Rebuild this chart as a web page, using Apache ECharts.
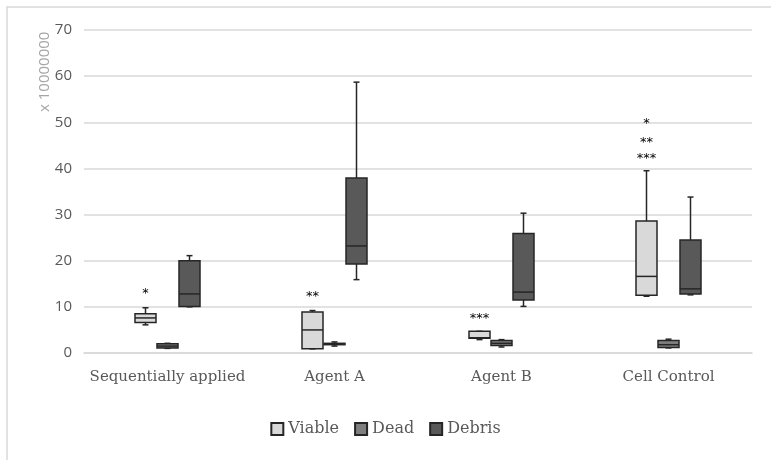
<!DOCTYPE html>
<html>
<head>
<meta charset="utf-8">
<script src="https://cdn.jsdelivr.net/npm/echarts@6/dist/echarts.min.js"></script>
<style>
  html, body { margin: 0; padding: 0; background: #fff; }
  #chart { width: 771px; height: 471px; }
</style>
</head>
<body>
<div id="chart"></div>
<script>
// categories on the x axis
var categories = ['Sequentially applied', 'Agent A', 'Agent B', 'Cell Control'];

// box values per category: [min, q1, median, q3, max]  (x 10000000)
var viable = [
    [6.1, 6.6, 7.6, 8.5, 9.8],
    [0.9, 0.9, 5.0, 8.9, 9.2],
    [2.9, 3.2, 3.3, 4.7, 4.7],
    [12.3, 12.5, 16.6, 28.6, 39.5]
];
var dead = [
    [1.0, 1.1, 1.5, 2.0, 2.1],
    [1.5, 1.8, 1.9, 2.1, 2.4],
    [1.3, 1.6, 2.1, 2.7, 2.9],
    [1.1, 1.2, 1.8, 2.7, 3.0]
];
var debris = [
    [10.0, 10.1, 12.8, 20.0, 21.1],
    [15.9, 19.3, 23.2, 37.9, 58.7],
    [10.1, 11.5, 13.2, 25.9, 30.3],
    [12.6, 12.8, 13.9, 24.5, 33.8]
];

// significance marks (drawn above the Viable boxes)
var starCats = [0, 1, 2, 3, 3, 3];
var starValues = [13.5, 12.8, 8.1, 50.4, 46.3, 42.8];
var starTexts = ['*', '**', '***', '*', '**', '***'];

// y axis ticks
var yMin = 0, yMax = 70, yStep = 10;

var BOX_W = 21;
var EDGE = '#262626';

function toRows(arr) {
    return arr.map(function(v, i) {
        return [i, v[0], v[1], v[2], v[3], v[4]];
    });
}

// box renderer, offset = px shift from the category centre
function boxRender(offset, fill) {
    return function(params, api) {
        var x = api.value(0);
        var pMin = api.coord([x, api.value(1)]);
        var pQ1 = api.coord([x, api.value(2)]);
        var pMed = api.coord([x, api.value(3)]);
        var pQ3 = api.coord([x, api.value(4)]);
        var pMax = api.coord([x, api.value(5)]);
        var cx = pMed[0] + offset;
        var hw = BOX_W / 2;
        var cw = 3;
        var ls = { stroke: EDGE, lineWidth: 1.5 };
        return {
            type: 'group',
            children: [
                { type: 'line', shape: { x1: cx, y1: pMax[1], x2: cx, y2: pQ3[1] }, style: ls },
                { type: 'line', shape: { x1: cx, y1: pQ1[1], x2: cx, y2: pMin[1] }, style: ls },
                { type: 'line', shape: { x1: cx - cw, y1: pMax[1], x2: cx + cw, y2: pMax[1] }, style: ls },
                { type: 'line', shape: { x1: cx - cw, y1: pMin[1], x2: cx + cw, y2: pMin[1] }, style: ls },
                {
                    type: 'rect',
                    shape: { x: cx - hw, y: pQ3[1], width: BOX_W, height: pQ1[1] - pQ3[1] },
                    style: { fill: fill, stroke: EDGE, lineWidth: 1.5 }
                },
                { type: 'line', shape: { x1: cx - hw, y1: pMed[1], x2: cx + hw, y2: pMed[1] }, style: ls }
            ]
        };
    };
}

var colors = { Viable: '#d9d9d9', Dead: '#7f7f7f', Debris: '#595959' };
var offsets = { Viable: -22, Dead: 0, Debris: 22 };

function boxSeries(name, arr) {
    return {
        name: name,
        type: 'custom',
        renderItem: boxRender(offsets[name], colors[name]),
        itemStyle: { color: colors[name], borderColor: EDGE, borderWidth: 1.5 },
        encode: { x: 0, y: [1, 2, 3, 4, 5] },
        data: toRows(arr),
        silent: true,
        z: 3
    };
}

var starData = starCats.map(function(c, i) {
    return [c, starValues[i], starTexts[i]];
});

var myChart = echarts.init(document.getElementById('chart'));

var option = {
    animation: false,
    backgroundColor: '#fff',
    grid: { left: 84, right: 19, top: 30, bottom: 118 },
    legend: {
        top: 416,
        left: 'center',
        itemWidth: 12,
        itemHeight: 12,
        itemGap: 15,
        icon: 'rect',
        textStyle: { color: '#595959', fontFamily: 'DejaVu Serif', fontSize: 16 },
        data: ['Viable', 'Dead', 'Debris']
    },
    xAxis: {
        type: 'category',
        data: categories,
        axisTick: { show: false },
        axisLine: { lineStyle: { color: '#d9d9d9', width: 1.5 } },
        axisLabel: { interval: 0, color: '#595959', fontFamily: 'DejaVu Serif', fontSize: 15, margin: 17 }
    },
    yAxis: {
        type: 'value',
        min: yMin,
        max: yMax,
        interval: yStep,
        axisLine: { show: false },
        axisTick: { show: false },
        splitLine: { lineStyle: { color: '#d9d9d9', width: 1.5 } },
        axisLabel: { color: '#595959', fontFamily: 'Open Sans', fontSize: 15, margin: 12 }
    },
    graphic: [
        {
            type: 'polyline',
            shape: { points: [[7, 460], [7, 7], [771, 7]] },
            style: { stroke: '#d9d9d9', lineWidth: 1.5, fill: null },
            silent: true
        },
        {
            type: 'text',
            x: 45,
            y: 112,
            rotation: Math.PI / 2,
            style: {
                text: 'x 10000000',
                fill: '#a6a6a6',
                font: '15px "Open Sans"',
                textAlign: 'left',
                textVerticalAlign: 'middle'
            },
            silent: true
        }
    ],
    series: [
        boxSeries('Viable', viable),
        boxSeries('Dead', dead),
        boxSeries('Debris', debris),
        {
            name: 'sig',
            type: 'custom',
            silent: true,
            encode: { x: 0, y: 1 },
            data: starData,
            renderItem: function(params, api) {
                var p = api.coord([api.value(0), api.value(1)]);
                return {
                    type: 'text',
                    x: p[0] + offsets.Viable,
                    y: p[1] + 3,
                    style: {
                        text: starTexts[params.dataIndex],
                        fill: '#000',
                        font: '13px "DejaVu Sans"',
                        textAlign: 'center',
                        textVerticalAlign: 'middle'
                    }
                };
            },
            z: 4
        }
    ]
};

myChart.setOption(option);
</script>
</body>
</html>
